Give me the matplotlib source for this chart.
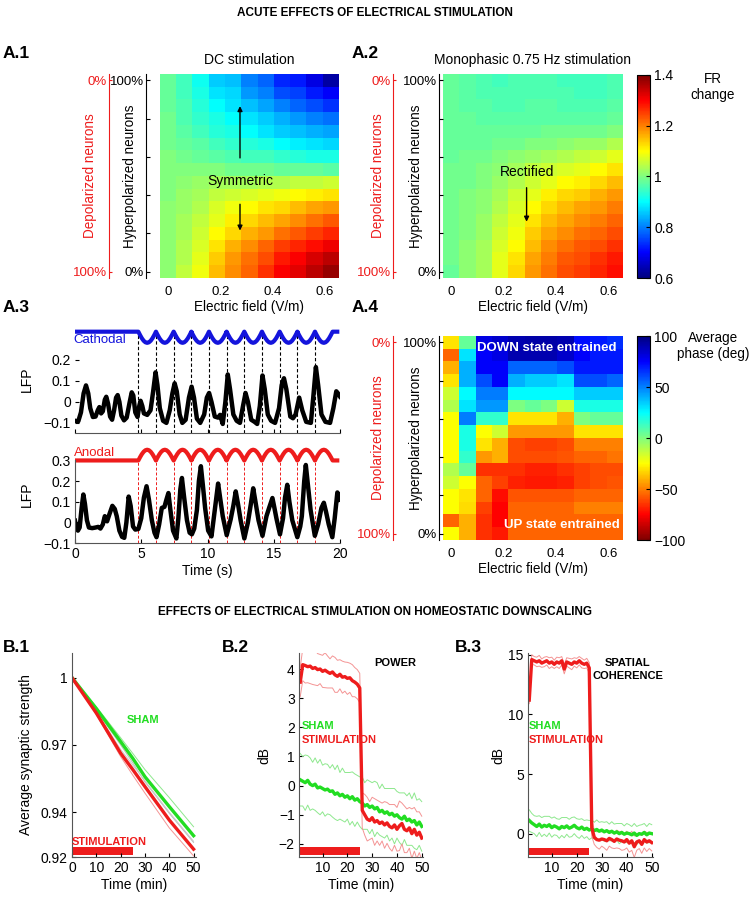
import matplotlib
matplotlib.use('Agg')
import matplotlib.pyplot as plt
from matplotlib.colors import LinearSegmentedColormap

plt.rcParams['font.family'] = ['Liberation Sans', 'DejaVu Sans']
plt.rcParams['font.size'] = 9
plt.rcParams['xtick.direction'] = 'in'
plt.rcParams['ytick.direction'] = 'in'
plt.rcParams['axes.linewidth'] = 0.8

# ---------------- data ----------------
efield = [0, 0.0625, 0.125, 0.1875, 0.25, 0.3125, 0.375, 0.4375, 0.5, 0.5625, 0.625]

# rows: top = 100% hyperpolarized ... bottom = 0% hyperpolarized
fr_dc = [
    [0.98, 0.95, 0.91, 0.86, 0.85, 0.80, 0.78, 0.73, 0.72, 0.68, 0.63],
    [0.98, 0.95, 0.92, 0.88, 0.87, 0.82, 0.80, 0.76, 0.75, 0.72, 0.70],
    [0.98, 0.96, 0.93, 0.90, 0.88, 0.85, 0.83, 0.80, 0.78, 0.76, 0.74],
    [0.99, 0.96, 0.94, 0.92, 0.90, 0.88, 0.86, 0.84, 0.82, 0.80, 0.79],
    [0.99, 0.97, 0.95, 0.93, 0.92, 0.90, 0.88, 0.86, 0.85, 0.84, 0.83],
    [0.99, 0.98, 0.97, 0.95, 0.94, 0.93, 0.92, 0.90, 0.89, 0.88, 0.87],
    [1.00, 0.99, 0.98, 0.97, 0.96, 0.95, 0.95, 0.94, 0.93, 0.92, 0.92],
    [1.00, 1.00, 1.00, 1.00, 0.99, 0.99, 0.99, 0.98, 0.98, 0.98, 0.97],
    [1.00, 1.01, 1.02, 1.03, 1.03, 1.03, 1.04, 1.04, 1.05, 1.05, 1.06],
    [1.00, 1.02, 1.03, 1.05, 1.06, 1.07, 1.08, 1.09, 1.10, 1.11, 1.12],
    [1.01, 1.02, 1.04, 1.07, 1.09, 1.10, 1.12, 1.13, 1.15, 1.17, 1.18],
    [1.01, 1.03, 1.05, 1.08, 1.11, 1.13, 1.15, 1.17, 1.19, 1.21, 1.23],
    [1.01, 1.03, 1.06, 1.10, 1.13, 1.16, 1.18, 1.21, 1.23, 1.25, 1.27],
    [1.01, 1.04, 1.07, 1.12, 1.16, 1.19, 1.22, 1.25, 1.27, 1.29, 1.31],
    [1.01, 1.04, 1.08, 1.14, 1.18, 1.21, 1.24, 1.28, 1.30, 1.33, 1.35],
    [1.01, 1.05, 1.09, 1.15, 1.19, 1.22, 1.26, 1.30, 1.32, 1.35, 1.38],
]

fr_mono = [
    [0.98, 0.97, 0.96, 0.95, 0.96, 0.96, 0.96, 0.95, 0.95, 0.95, 0.96],
    [0.98, 0.97, 0.96, 0.96, 0.96, 0.96, 0.96, 0.96, 0.95, 0.95, 0.96],
    [0.98, 0.97, 0.97, 0.96, 0.96, 0.97, 0.97, 0.96, 0.96, 0.96, 0.97],
    [0.98, 0.98, 0.97, 0.97, 0.97, 0.97, 0.97, 0.97, 0.97, 0.97, 0.98],
    [0.98, 0.98, 0.98, 0.98, 0.98, 0.98, 0.99, 0.99, 0.99, 0.99, 1.00],
    [0.98, 0.98, 0.98, 0.99, 0.99, 1.00, 1.00, 1.01, 1.02, 1.02, 1.04],
    [0.98, 0.99, 0.99, 1.00, 1.01, 1.02, 1.03, 1.04, 1.05, 1.06, 1.08],
    [0.99, 0.99, 1.00, 1.01, 1.03, 1.05, 1.06, 1.07, 1.08, 1.10, 1.12],
    [0.99, 0.99, 1.00, 1.02, 1.04, 1.06, 1.08, 1.10, 1.11, 1.13, 1.15],
    [0.99, 1.00, 1.01, 1.03, 1.06, 1.08, 1.11, 1.13, 1.14, 1.16, 1.18],
    [0.99, 1.00, 1.01, 1.04, 1.07, 1.10, 1.13, 1.15, 1.17, 1.18, 1.20],
    [0.99, 1.00, 1.02, 1.05, 1.08, 1.12, 1.15, 1.17, 1.19, 1.20, 1.22],
    [0.99, 1.00, 1.02, 1.06, 1.09, 1.14, 1.17, 1.19, 1.21, 1.22, 1.24],
    [0.99, 1.01, 1.03, 1.07, 1.10, 1.15, 1.19, 1.21, 1.23, 1.24, 1.26],
    [0.99, 1.01, 1.03, 1.08, 1.12, 1.17, 1.20, 1.23, 1.24, 1.26, 1.28],
    [0.98, 1.01, 1.03, 1.08, 1.13, 1.18, 1.21, 1.24, 1.25, 1.27, 1.29],
]

phase = [
    [-30, 5, 80, 85, 90, 92, 92, 90, 72, 70, 66],
    [-55, 30, 75, 80, 90, 90, 90, 85, 75, 70, 70],
    [-40, 40, 75, 75, 55, 55, 55, 60, 70, 70, 70],
    [-30, 40, 60, 75, 40, 35, 35, 30, 60, 60, 55],
    [-15, 25, 50, 50, 25, 25, 25, 25, 35, 35, 35],
    [-10, 30, 45, 45, 0, 5, 0, -15, 20, 20, 20],
    [-25, 50, 15, 15, -30, -30, -30, -40, 0, 5, 5],
    [-25, 20, -25, -15, -45, -45, -45, -45, -30, -30, -30],
    [-25, 20, -30, -40, -60, -62, -62, -60, -50, -50, -50],
    [-25, 15, -45, -40, -60, -60, -60, -58, -55, -55, -52],
    [-10, 5, -65, -65, -65, -68, -68, -65, -62, -60, -60],
    [-15, -25, -55, -62, -68, -70, -70, -68, -62, -60, -58],
    [-25, -30, -55, -72, -58, -58, -58, -58, -55, -55, -55],
    [-25, -32, -62, -75, -55, -55, -55, -55, -50, -50, -50],
    [-55, -40, -65, -75, -55, -55, -55, -55, -55, -55, -55],
    [-25, -40, -65, -70, -55, -55, -55, -55, -55, -55, -55],
]

# A.3 LFP traces (time s, LFP)
cath_t = [0.00, 0.25, 0.45, 0.65, 0.83, 1.00, 1.15, 1.35, 1.55, 1.72, 1.84, 1.97, 2.10, 2.25, 2.36,
          2.50, 2.65, 2.80, 2.95, 3.10, 3.22, 3.35, 3.50, 3.70, 3.90, 4.10, 4.28, 4.40, 4.55, 4.72,
          4.85, 4.95, 5.08, 5.20, 5.45, 5.70, 5.90, 6.08, 6.22, 6.40, 6.65, 6.90, 7.15, 7.35, 7.52,
          7.68, 7.90, 8.10, 8.35, 8.60, 8.80, 8.98, 9.20, 9.45, 9.75, 9.95, 10.12, 10.30, 10.55, 10.80,
          10.95, 11.15, 11.35, 11.53, 11.70, 11.95, 12.20, 12.45, 12.68, 12.87, 13.05, 13.30, 13.55, 13.75,
          13.95, 14.15, 14.32, 14.55, 14.80, 15.10, 15.40, 15.60, 15.77, 15.95, 16.25, 16.45, 16.65, 16.92,
          17.15, 17.45, 17.80, 17.98, 18.18, 18.35, 18.60, 18.90, 19.25, 19.50, 19.72, 19.85, 20.00]
cath_lfp = [-0.090, -0.092, -0.050, 0.040, 0.078, 0.040, -0.030, -0.072, -0.070, -0.040, -0.025, -0.055,
            -0.045, 0.010, 0.024, -0.010, -0.070, -0.085, -0.040, 0.020, 0.032, 0.000, -0.065, -0.088,
            -0.075, -0.010, 0.045, 0.030, -0.050, -0.072, -0.020, 0.005, -0.020, -0.055, -0.062, -0.040,
            0.050, 0.140, 0.080, -0.030, -0.090, -0.100, -0.040, 0.040, 0.088, 0.050, -0.060, -0.100,
            -0.085, 0.020, 0.072, 0.020, -0.080, -0.100, -0.060, 0.020, 0.042, 0.000, -0.070, -0.075,
            -0.062, -0.105, 0.000, 0.130, 0.060, -0.060, -0.090, -0.100, -0.020, 0.042, 0.000, -0.085,
            -0.095, -0.105, -0.020, 0.125, 0.060, -0.060, -0.090, -0.100, -0.030, 0.080, 0.112, 0.060,
            -0.070, -0.078, -0.060, 0.020, -0.040, -0.095, -0.100, 0.020, 0.165, 0.080, -0.060, -0.095,
            -0.100, -0.030, 0.050, 0.040, 0.025]

anod_t = [0.00, 0.12, 0.22, 0.35, 0.50, 0.63, 0.75, 0.90, 1.05, 1.30, 1.55, 1.75, 1.92, 2.10, 2.25,
          2.42, 2.60, 2.82, 3.00, 3.15, 3.35, 3.55, 3.72, 3.88, 4.05, 4.20, 4.38, 4.55, 4.78, 5.00,
          5.20, 5.40, 5.58, 5.80, 6.00, 6.15, 6.35, 6.55, 6.75, 6.90, 7.05, 7.20, 7.40, 7.65, 7.80,
          7.95, 8.07, 8.22, 8.45, 8.65, 8.82, 9.00, 9.20, 9.35, 9.50, 9.65, 9.82, 10.05, 10.30, 10.55,
          10.80, 10.95, 11.15, 11.45, 11.75, 11.95, 12.13, 12.30, 12.50, 12.78, 13.05, 13.25, 13.45, 13.62,
          13.85, 14.15, 14.45, 14.65, 14.90, 15.05, 15.20, 15.47, 15.70, 15.85, 16.02, 16.18, 16.40, 16.78,
          17.00, 17.12, 17.30, 17.42, 17.58, 17.78, 18.10, 18.35, 18.60, 18.78, 18.95, 19.15, 19.42, 19.60,
          19.80, 19.92, 20.00]
anod_lfp = [0.008, -0.030, -0.040, -0.025, 0.070, 0.135, 0.090, 0.010, -0.025, -0.028, -0.025, -0.022,
            -0.030, -0.010, 0.030, 0.005, 0.040, 0.080, 0.065, 0.030, -0.040, -0.070, -0.075, 0.000,
            0.125, 0.080, -0.020, -0.035, -0.032, 0.020, 0.120, 0.175, 0.110, 0.010, -0.050, -0.072,
            -0.010, 0.070, 0.075, 0.110, 0.142, 0.060, -0.040, -0.078, 0.020, 0.160, 0.215, 0.130,
            0.010, -0.050, -0.058, -0.030, 0.060, 0.200, 0.272, 0.180, 0.070, -0.040, -0.068, 0.060,
            0.188, 0.120, 0.030, -0.062, 0.015, 0.080, 0.150, 0.090, 0.010, -0.078, 0.000, 0.080,
            0.165, 0.100, 0.010, -0.065, 0.030, 0.070, 0.118, 0.070, 0.020, -0.058, 0.020, 0.120,
            0.182, 0.100, 0.010, -0.072, -0.020, 0.030, 0.200, 0.278, 0.180, 0.060, -0.065, -0.010,
            0.070, 0.095, 0.050, -0.010, -0.072, 0.020, 0.145, 0.130, 0.110]

# stimulation: 0.75 Hz monophasic cycles
stim_onsets = [4.78, 6.11, 7.45, 8.78, 10.11, 11.44, 12.78, 14.11, 15.45, 16.78, 18.11]
stim_period = 1.333
cycle_frac = [0, 0.1, 0.2, 0.3, 0.4, 0.5, 0.6, 0.7, 0.8, 0.9, 1.0]
cycle_shape = [0, 0.31, 0.59, 0.81, 0.95, 1.0, 0.95, 0.81, 0.59, 0.31, 0]

# B.1 average synaptic strength
b1_time = [0, 10, 20, 25, 30, 40, 50]
b1_sham = [1.0, 0.9862, 0.9715, 0.9640, 0.9558, 0.9425, 0.9295]
b1_sham_hi = [1.0, 0.9870, 0.9732, 0.9662, 0.9590, 0.9465, 0.9335]
b1_sham_lo = [1.0, 0.9855, 0.9700, 0.9620, 0.9535, 0.9395, 0.9265]
b1_stim = [1.0, 0.9842, 0.9663, 0.9590, 0.9514, 0.9365, 0.9235]
b1_stim_hi = [1.0, 0.9848, 0.9680, 0.9610, 0.9540, 0.9400, 0.9270]
b1_stim_lo = [1.0, 0.9836, 0.9648, 0.9565, 0.9485, 0.9330, 0.9205]

minutes = list(range(1, 51))

# B.2 power (dB)
pw_stim = [3.55, 4.15, 4.12, 4.08, 4.10, 4.02, 4.05, 3.98, 4.00, 3.92, 3.96, 3.90, 3.85, 3.90, 3.80,
           3.75, 3.82, 3.72, 3.74, 3.68, 3.70, 3.60, 3.55, 3.48, 3.35, -0.85, -1.00, -1.15, -1.20, -1.10,
           -1.25, -1.20, -1.30, -1.25, -1.35, -1.28, -1.40, -1.45, -1.35, -1.50, -1.38, -1.30, -1.50, -1.55,
           -1.45, -1.65, -1.50, -1.70, -1.60, -1.80]
pw_stim_sd = [0.50, 0.55, 0.60, 0.55, 0.60, 0.55, 0.60, 0.55, 0.50, 0.55, 0.60, 0.55, 0.50, 0.55, 0.60,
              0.55, 0.50, 0.55, 0.50, 0.55, 0.50, 0.55, 0.50, 0.50, 0.50, 0.60, 0.70, 0.75, 0.65, 0.70,
              0.80, 0.70, 0.75, 0.65, 0.80, 0.70, 0.75, 0.80, 0.70, 0.75, 0.85, 0.70, 0.80, 0.75, 0.70,
              0.85, 0.75, 0.80, 0.70, 0.75]
pw_sham = [0.20, 0.15, 0.10, 0.18, 0.05, 0.00, 0.05, -0.08, -0.05, -0.10, -0.15, -0.12, -0.20, -0.18, -0.30,
           -0.25, -0.35, -0.30, -0.40, -0.35, -0.45, -0.38, -0.50, -0.45, -0.55, -0.60, -0.70, -0.65, -0.75,
           -0.70, -0.80, -0.75, -0.90, -0.85, -0.95, -0.90, -1.00, -0.95, -1.05, -1.00, -1.10, -1.15, -1.05,
           -1.20, -1.15, -1.25, -1.20, -1.35, -1.25, -1.40]
pw_sham_sd = [0.90, 0.85, 0.95, 0.85, 0.90, 0.80, 0.90, 0.85, 0.95, 0.80, 0.90, 0.85, 0.80, 0.90, 0.85,
              0.95, 0.80, 0.90, 0.85, 0.80, 0.90, 0.85, 0.90, 0.80, 0.85, 0.90, 0.80, 0.85, 0.90, 0.80,
              0.95, 0.85, 0.80, 0.90, 0.85, 0.80, 0.90, 0.85, 0.95, 0.80, 0.85, 0.90, 0.80, 0.85, 0.90,
              0.80, 0.95, 0.85, 0.80, 0.85]

# B.3 spatial coherence (dB)
co_stim = [11.2, 14.6, 14.5, 14.4, 14.5, 14.3, 14.4, 14.5, 14.3, 14.4, 14.2, 14.4, 14.3, 14.5, 13.8,
           14.4, 14.3, 14.2, 14.4, 14.3, 14.5, 14.3, 14.2, 14.3, 13.9, 0.5, -0.3, -0.5, -0.55, -0.45,
           -0.5, -0.6, -0.4, -0.5, -0.65, -0.45, -0.55, -0.6, -0.7, -0.5, -0.8, -0.6, -1.1, -0.7, -0.6,
           -0.9, -0.5, -0.7, -0.6, -0.75]
co_stim_sd = [0.30, 0.40, 0.35, 0.40, 0.45, 0.35, 0.40, 0.35, 0.45, 0.40, 0.35, 0.40, 0.45, 0.35, 0.40,
              0.35, 0.40, 0.45, 0.35, 0.40, 0.35, 0.40, 0.35, 0.40, 0.45, 0.70, 0.60, 0.65, 0.75, 0.60,
              0.70, 0.80, 0.65, 0.70, 0.60, 0.75, 0.70, 0.80, 0.65, 0.70, 0.75, 0.80, 0.90, 0.70, 0.65,
              0.75, 0.70, 0.80, 0.65, 0.70]
co_sham = [1.1, 0.9, 0.75, 0.6, 0.8, 0.55, 0.7, 0.6, 0.75, 0.5, 0.65, 0.55, 0.4, 0.6, 0.5, 0.65, 0.45,
           0.55, 0.7, 0.5, 0.4, 0.55, 0.35, 0.45, 0.3, 0.4, 0.25, 0.35, 0.2, 0.3, 0.15, 0.25, 0.1, 0.2,
           0.05, 0.15, 0.0, 0.1, -0.05, 0.05, 0.0, -0.1, 0.05, -0.15, 0.0, -0.05, 0.1, -0.1, 0.05, 0.0]
co_sham_sd = [0.90, 0.80, 0.75, 0.85, 0.70, 0.80, 0.75, 0.85, 0.70, 0.80, 0.75, 0.70, 0.80, 0.75, 0.85,
              0.70, 0.75, 0.80, 0.70, 0.75, 0.80, 0.70, 0.75, 0.70, 0.80, 0.75, 0.70, 0.80, 0.75, 0.70,
              0.80, 0.75, 0.70, 0.80, 0.75, 0.70, 0.85, 0.75, 0.70, 0.80, 0.75, 0.70, 0.80, 0.75, 0.70,
              0.80, 0.75, 0.70, 0.80, 0.75]

stim_window = (1, 25)

# ---------------- style ----------------
RED = '#ee1c1c'
BLUE = '#1414dc'
GREEN = '#22dd22'
LGREEN = '#8ee88e'
LRED = '#f49494'
SPINE = '#555555'

# MATLAB-style jet anchors
jet_pos = [0.0, 0.125, 0.375, 0.625, 0.875, 1.0]
jet_col = [(0, 0, 0.5), (0, 0, 1), (0, 1, 1), (1, 1, 0), (1, 0, 0), (0.5, 0, 0)]
mjet = LinearSegmentedColormap.from_list('mjet', list(zip(jet_pos, jet_col)))
mjet_r = mjet.reversed()

W, H = 751, 897
fig = plt.figure(figsize=(W / 100, H / 100), dpi=100)


def add_ax(x0, y0, x1, y1):
    return fig.add_axes([x0 / W, 1 - y1 / H, (x1 - x0) / W, (y1 - y0) / H])


def heatmap(ax, data, cmap, vmin, vmax, offset, red_loc, hyp_x, dep_x):
    half = (efield[1] - efield[0]) / 2
    im = ax.imshow(data, cmap=cmap, vmin=vmin, vmax=vmax, aspect='auto', interpolation='nearest',
                   extent=[efield[0] - half, efield[-1] + half, len(data) - 0.5, -0.5])
    ax.set_xticks([0, 0.2, 0.4, 0.6], ['0', '0.2', '0.4', '0.6'])
    ax.tick_params(axis='x', length=0, pad=6, labelsize=9.5)
    ax.set_xlabel('Electric field (V/m)', fontsize=9.75, labelpad=1)
    ax.set_yticks([0, 3, 6, 9, 12, 15], ['100%', '', '', '', '', '0%'])
    ax.tick_params(axis='y', length=3, pad=1.5, labelsize=9.5)
    ax.spines['left'].set_position(('outward', offset))
    for s in ['top', 'right', 'bottom']:
        ax.spines[s].set_visible(False)
    ax.set_ylabel('Hyperpolarized neurons', fontsize=9.75)
    ax.yaxis.set_label_coords(hyp_x, 0.5)
    sec = ax.secondary_yaxis(red_loc)
    sec.set_yticks([0, 15], ['0%', '100%'])
    sec.tick_params(axis='y', colors=RED, length=2, pad=1.5, labelsize=9.5)
    sec.spines['left'].set_color(RED)
    ax.text(dep_x, 0.5, 'Depolarized neurons', rotation=90, color=RED, fontsize=9.75,
            transform=ax.transAxes, ha='center', va='center')
    return im


# ---------------- A.1 / A.2 ----------------
ax1 = add_ax(160, 74, 339, 278)
heatmap(ax1, fr_dc, mjet, 0.6, 1.4, 10, -0.285, -0.128, -0.391)
ax1.set_title('DC stimulation', fontsize=10, pad=7)
ax1.text(0.276, 7.9, 'Symmetric', ha='center', va='center', fontsize=10)
ax1.annotate('', xy=(0.276, 1.8), xytext=(0.276, 6.3),
             arrowprops=dict(arrowstyle='-|>', color='k', lw=1, mutation_scale=7))
ax1.annotate('', xy=(0.276, 12.0), xytext=(0.276, 9.5),
             arrowprops=dict(arrowstyle='-|>', color='k', lw=1, mutation_scale=7))

ax2 = add_ax(443, 74, 623, 278)
im2 = heatmap(ax2, fr_mono, mjet, 0.6, 1.4, 3, -0.276, -0.111, -0.361)
ax2.set_title('Monophasic 0.75 Hz stimulation', fontsize=10, pad=7)
ax2.text(0.288, 7.2, 'Rectified', ha='center', va='center', fontsize=10)
ax2.annotate('', xy=(0.288, 11.3), xytext=(0.288, 8.2),
             arrowprops=dict(arrowstyle='-|>', color='k', lw=1, mutation_scale=7))

cax1 = add_ax(637, 75, 650, 278)
cb1 = fig.colorbar(im2, cax=cax1, ticks=[0.6, 0.8, 1.0, 1.2, 1.4])
cb1.ax.set_yticklabels(['0.6', '0.8', '1', '1.2', '1.4'])
cb1.ax.tick_params(direction='in', length=3, pad=3, labelsize=10)
cb1.outline.set_linewidth(0.8)
fig.text(713 / W, 1 - 87 / H, 'FR\nchange', ha='center', va='center', fontsize=9.75, linespacing=1.25)

# ---------------- A.3 ----------------
ax_c = add_ax(75, 326, 340, 433)
base_c, amp_c = 0.333, -0.053
wave_t, wave_c = [0.0], [base_c]
for on in stim_onsets:
    for f, s in zip(cycle_frac, cycle_shape):
        wave_t.append(on + f * stim_period)
        wave_c.append(base_c + amp_c * s)
wave_t.append(19.95)
wave_c.append(base_c)
ax_c.vlines(stim_onsets, -0.148, base_c, colors='k', linestyles=(0, (3, 2)), lw=0.8)
ax_c.plot(wave_t, wave_c, color=BLUE, lw=3, solid_capstyle='butt')
ax_c.plot(cath_t, cath_lfp, color='k', lw=3.2)
ax_c.text(-0.15, 0.295, 'Cathodal', color=BLUE, fontsize=9.5, va='center', ha='left')
ax_c.set_xlim(0, 20)
ax_c.set_ylim(-0.148, 0.36)
ax_c.set_xticks([0, 5, 10, 15, 20], [])
ax_c.set_yticks([-0.1, 0, 0.1, 0.2], ['\u22120.1', '0', '0.1', '0.2'])
ax_c.tick_params(labelsize=10, length=3, pad=3)
for s in ['top', 'right', 'left']:
    ax_c.spines[s].set_visible(False)
ax_c.spines['bottom'].set_color(SPINE)
ax_c.set_ylabel('LFP', fontsize=10)
ax_c.yaxis.set_label_coords(-0.155, 0.5)

ax_a = add_ax(75, 446, 340, 543)
base_a, amp_a = 0.3, 0.052
wave_a = [base_a]
for on in stim_onsets:
    for s in cycle_shape:
        wave_a.append(base_a + amp_a * s)
wave_a.append(base_a)
ax_a.vlines(stim_onsets, -0.1, base_a, colors=RED, linestyles=(0, (3, 2)), lw=0.7)
ax_a.plot(wave_t, wave_a, color=RED, lw=3, solid_capstyle='butt', clip_on=False)
ax_a.plot(anod_t, anod_lfp, color='k', lw=3.2)
ax_a.text(-0.1, 0.337, 'Anodal', color=RED, fontsize=9.5, va='center', ha='left')
ax_a.set_xlim(0, 20)
ax_a.set_ylim(-0.1, 0.37)
ax_a.set_xticks([0, 5, 10, 15, 20], ['0', '5', '10', '15', '20'])
ax_a.set_yticks([-0.1, 0, 0.1, 0.2, 0.3], ['\u22120.1', '0', '0.1', '0.2', '0.3'])
ax_a.tick_params(labelsize=10, length=3, pad=3)
for s in ['top', 'right']:
    ax_a.spines[s].set_visible(False)
ax_a.spines['left'].set_bounds(-0.1, 0.3)
ax_a.spines['left'].set_color(SPINE)
ax_a.spines['bottom'].set_color(SPINE)
ax_a.set_ylabel('LFP', fontsize=10)
ax_a.yaxis.set_label_coords(-0.155, 0.5)
ax_a.set_xlabel('Time (s)', fontsize=10, labelpad=2)

# ---------------- A.4 ----------------
ax4 = add_ax(443, 336, 623, 540)
im4 = heatmap(ax4, phase, mjet_r, -100, 100, 3, -0.276, -0.111, -0.361)
ax4.text(0.365, 0.45, 'DOWN state entrained', color='white', fontweight='bold', fontsize=9.5,
         ha='center', va='center')
ax4.text(0.422, 14.3, 'UP state entrained', color='white', fontweight='bold', fontsize=9.5,
         ha='center', va='center')
cax2 = add_ax(637, 336, 650, 540)
cb2 = fig.colorbar(im4, cax=cax2, ticks=[-100, -50, 0, 50, 100])
cb2.ax.set_yticklabels(['\u2212100', '\u221250', '0', '50', '100'])
cb2.ax.tick_params(direction='in', length=3, pad=3, labelsize=10)
cb2.outline.set_linewidth(0.8)
fig.text(713 / W, 1 - 346 / H, 'Average\nphase (deg)', ha='center', va='center', fontsize=9.75,
         linespacing=1.25)

# ---------------- B panels ----------------
def b_axes(ax):
    for s in ['top', 'right']:
        ax.spines[s].set_visible(False)
    ax.spines['left'].set_color(SPINE)
    ax.spines['bottom'].set_color(SPINE)
    ax.tick_params(labelsize=10, length=3, pad=3)
    ax.set_xlabel('Time (min)', fontsize=10, labelpad=2)


def band(ax, main, sd, light):
    ax.plot(minutes, [m + s for m, s in zip(main, sd)], color=light, lw=0.7)
    ax.plot(minutes, [m - s for m, s in zip(main, sd)], color=light, lw=0.7)


axb1 = add_ax(72, 653, 196, 857)
for series, col in [(b1_sham_hi, LGREEN), (b1_sham_lo, '#bbbbbb'), (b1_stim_hi, '#c8c8c8'),
                    (b1_stim_lo, LRED)]:
    axb1.plot(b1_time, series, color=col, lw=0.7)
axb1.plot(b1_time, b1_sham, color=GREEN, lw=2.4)
axb1.plot(b1_time, b1_stim, color=RED, lw=2.4)
axb1.fill_between([0.3, stim_window[1]], 0.9209, 0.9243, color=RED, lw=0)
axb1.text(22.5, 0.9812, 'SHAM', color=GREEN, fontweight='bold', fontsize=8, va='center')
axb1.text(0, 0.9268, 'STIMULATION', color=RED, fontweight='bold', fontsize=8, va='center')
axb1.set_xlim(0, 51)
axb1.set_ylim(0.92, 1.011)
axb1.set_xticks([0, 10, 20, 30, 40, 50])
axb1.set_yticks([0.92, 0.94, 0.97, 1.0], ['0.92', '0.94', '0.97', '1'])
b_axes(axb1)
axb1.set_ylabel('Average synaptic strength', fontsize=10)
axb1.yaxis.set_label_coords(-0.315, 0.5)

axb2 = add_ax(299, 653, 423, 857)
band(axb2, pw_sham, pw_sham_sd, LGREEN)
band(axb2, pw_stim, pw_stim_sd, LRED)
axb2.plot(minutes, pw_sham, color=GREEN, lw=2.4)
axb2.plot(minutes, pw_stim, color=RED, lw=2.4)
axb2.fill_between(stim_window, -2.38, -2.12, color=RED, lw=0)
axb2.text(31, 4.2, 'POWER', fontweight='bold', fontsize=8, va='center')
axb2.text(1.6, 2.05, 'SHAM', color=GREEN, fontweight='bold', fontsize=8, va='center')
axb2.text(1.6, 1.57, 'STIMULATION', color=RED, fontweight='bold', fontsize=8, va='center')
axb2.set_xlim(0.5, 50.5)
axb2.set_ylim(-2.45, 4.55)
axb2.set_xticks([10, 20, 30, 40, 50])
axb2.set_yticks([-2, -1, 0, 1, 2, 3, 4])
b_axes(axb2)
axb2.set_ylabel('dB', fontsize=10)
axb2.yaxis.set_label_coords(-0.226, 0.5)

axb3 = add_ax(528, 653, 653, 857)
band(axb3, co_sham, co_sham_sd, LGREEN)
band(axb3, co_stim, co_stim_sd, LRED)
axb3.plot(minutes, co_sham, color=GREEN, lw=2.4)
axb3.plot(minutes, co_stim, color=RED, lw=2.4)
axb3.fill_between(stim_window, -1.82, -1.18, color=RED, lw=0)
axb3.text(40.4, 13.75, 'SPATIAL\nCOHERENCE', fontweight='bold', fontsize=8, va='center', ha='center',
          linespacing=1.4)
axb3.text(0.9, 9.03, 'SHAM', color=GREEN, fontweight='bold', fontsize=8, va='center')
axb3.text(0.9, 7.85, 'STIMULATION', color=RED, fontweight='bold', fontsize=8, va='center')
axb3.set_xlim(0.5, 50.5)
axb3.set_ylim(-1.96, 15.15)
axb3.set_xticks([10, 20, 30, 40, 50])
axb3.set_yticks([0, 5, 10, 15])
b_axes(axb3)
axb3.set_ylabel('dB', fontsize=10)
axb3.yaxis.set_label_coords(-0.18, 0.5)

# ---------------- titles / panel labels ----------------
fig.text(375 / W, 1 - 13 / H, 'ACUTE EFFECTS OF ELECTRICAL STIMULATION', ha='center', va='center',
         fontweight='bold', fontsize=8.5)
fig.text(375 / W, 1 - 612 / H, 'EFFECTS OF ELECTRICAL STIMULATION ON HOMEOSTATIC DOWNSCALING',
         ha='center', va='center', fontweight='bold', fontsize=8.5)
for lab, x, y in [('A.1', 3, 53), ('A.2', 352, 53), ('A.3', 3, 308), ('A.4', 352, 308),
                  ('B.1', 3, 648), ('B.2', 222, 648), ('B.3', 455, 648)]:
    fig.text(x / W, 1 - y / H, lab, ha='left', va='center', fontweight='bold', fontsize=12.5)

fig.savefig('out.png', dpi=100)
